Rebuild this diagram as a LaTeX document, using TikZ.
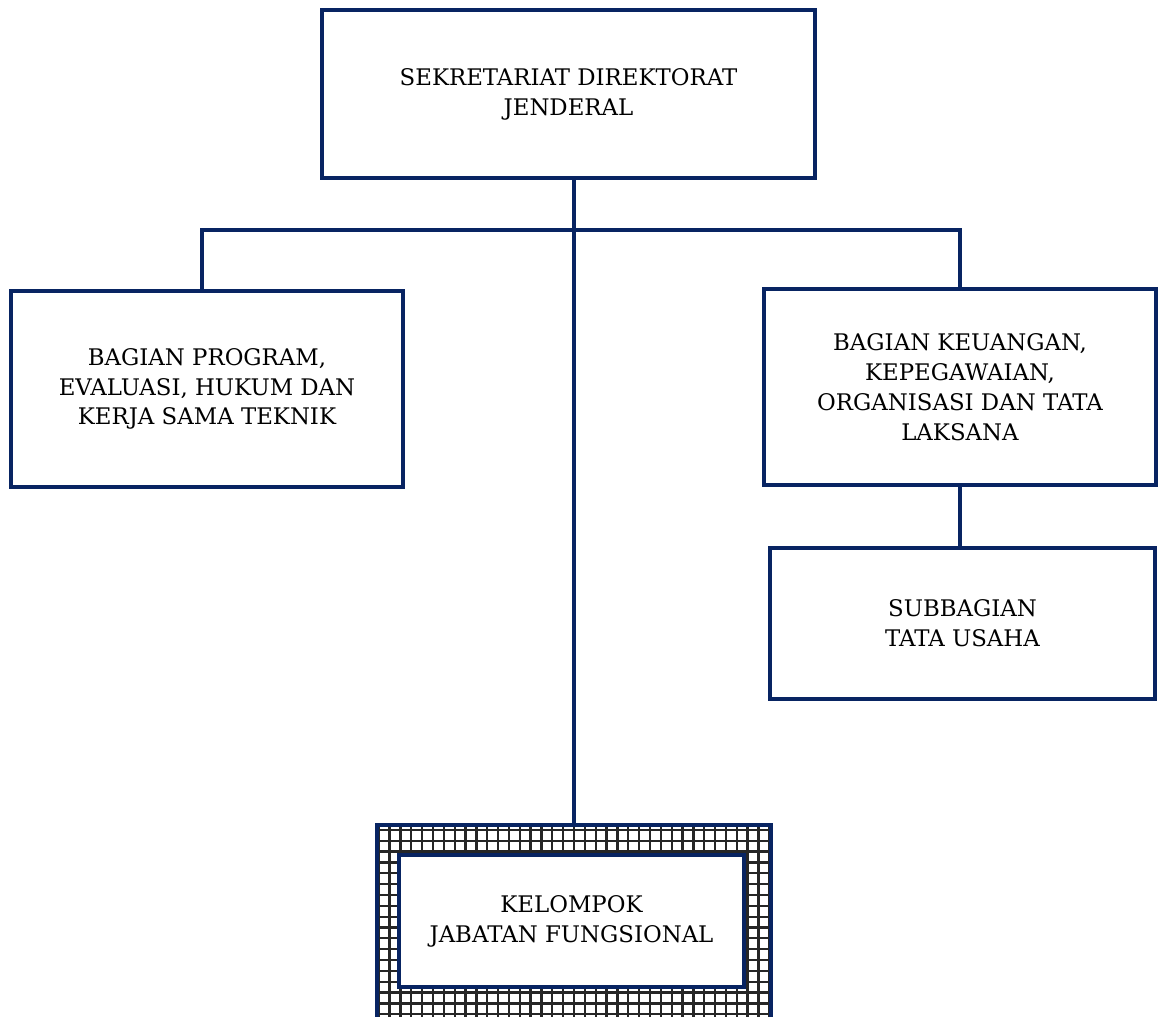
\documentclass[tikz,border=0pt]{standalone}
\usepackage{fontspec}
\setmainfont{DejaVu Serif}
\usepackage{tikz}
\usetikzlibrary{positioning}
\definecolor{darknavy}{RGB}{8,36,98}

\begin{document}
\begin{tikzpicture}[
  every node/.style={font=\fontsize{13}{17}\selectfont, align=center},
  unit/.style={rectangle, draw=darknavy, line width=2.4pt, fill=white, inner sep=0pt},
  gridbox/.style={rectangle, draw=darknavy, line width=2.4pt, inner sep=0pt,
    path picture={\draw[black!85, line width=1.3pt, step=0.217cm]
      ([shift={(-0.15,-0.15)}]path picture bounding box.south west) grid
      (path picture bounding box.north east);}},
  link/.style={draw=darknavy, line width=2.4pt}
]
\useasboundingbox (0,0) rectangle (23.16,20.32);

% Sekretariat (top)
\node[unit, minimum width=9.86cm, minimum height=3.36cm] (sekr) at (11.37,18.44)
  {SEKRETARIAT DIREKTORAT\\JENDERAL};

% Bagian
\node[unit, minimum width=7.84cm, minimum height=3.92cm] (prog) at (4.14,12.54)
  {BAGIAN PROGRAM,\\EVALUASI, HUKUM DAN\\KERJA SAMA TEKNIK};
\node[unit, minimum width=7.84cm, minimum height=3.92cm] (keu) at (19.2,12.58)
  {BAGIAN KEUANGAN,\\KEPEGAWAIAN,\\ORGANISASI DAN TATA\\LAKSANA};

% Subbagian
\node[unit, minimum width=7.7cm, minimum height=3.02cm] (tu) at (19.25,7.85)
  {SUBBAGIAN\\TATA USAHA};

% Kelompok jabatan fungsional (grid frame)
\node[gridbox, minimum width=7.88cm, minimum height=4.1cm] (jf) at (11.48,1.77) {};
\node[unit, minimum width=6.9cm, minimum height=2.64cm] (kjf) at (11.43,1.9)
  {KELOMPOK\\JABATAN FUNGSIONAL};

% Garis
\coordinate (bus) at (11.5,15.72);
\draw[link] ([xshift=-1mm]prog.north) |- (bus) -| (keu.north);
\draw[link] (sekr.south -| jf.north) -- (jf.north);
\draw[link] (keu.south) -- (keu.south |- tu.north);

\end{tikzpicture}
\end{document}
